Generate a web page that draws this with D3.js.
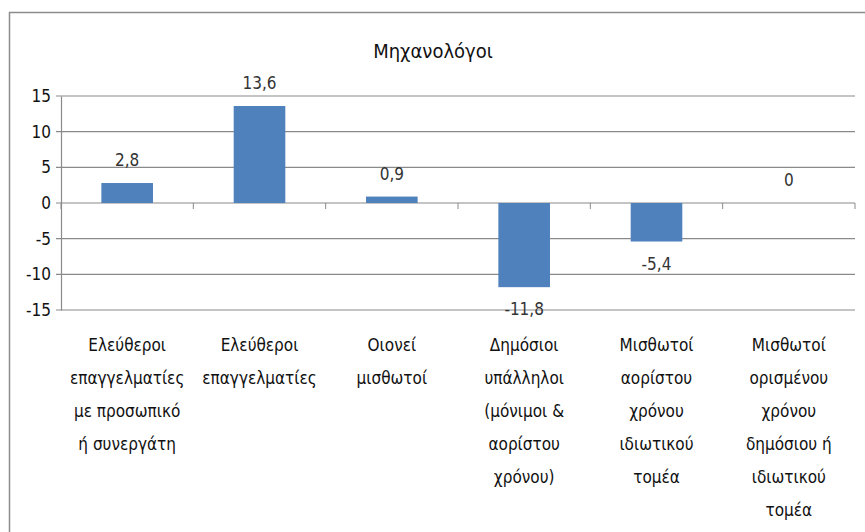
<!DOCTYPE html>
<html>
<head>
<meta charset="utf-8">
<script src="https://d3js.org/d3.v7.min.js"></script>
<style>
  body { margin: 0; background: #fff; }
  svg text { font-family: "Liberation Sans Narrow", "DejaVu Sans Condensed", sans-serif; }
</style>
</head>
<body>
<div id="chart"></div>
<script>
// data
var categories = [
  ["Ελεύθεροι", "επαγγελματίες", "με προσωπικό", "ή συνεργάτη"],
  ["Ελεύθεροι", "επαγγελματίες"],
  ["Οιονεί", "μισθωτοί"],
  ["Δημόσιοι", "υπάλληλοι", "(μόνιμοι &", "αορίστου", "χρόνου)"],
  ["Μισθωτοί", "αορίστου", "χρόνου", "ιδιωτικού", "τομέα"],
  ["Μισθωτοί", "ορισμένου", "χρόνου", "δημόσιου ή", "ιδιωτικού", "τομέα"]
];
var values = [2.8, 13.6, 0.9, -11.8, -5.4, 0];
var yTicks = [-15, -10, -5, 0, 5, 10, 15];
var title = "Μηχανολόγοι";

var svgWidth = 865, svgHeight = 532;
var margin = { top: 96, left: 61, right: 10, bottom: 222 };
var chartWidth = svgWidth - margin.left - margin.right;
var chartHeight = svgHeight - margin.top - margin.bottom;

var svg = d3.select("#chart").append("svg")
  .attr("width", svgWidth)
  .attr("height", svgHeight);

// chart frame
svg.append("rect")
  .attr("x", 9.5).attr("y", 12.5)
  .attr("width", 900).attr("height", 600)
  .attr("fill", "none")
  .attr("stroke", "#8c8c8c")
  .attr("stroke-width", 1.5);

svg.append("text")
  .attr("x", 433).attr("y", 58)
  .attr("text-anchor", "middle")
  .attr("font-size", "20px")
  .attr("fill", "#111")
  .text(title);

var chartGroup = svg.append("g")
  .attr("transform", `translate(${margin.left}, ${margin.top})`);

var xScale = d3.scaleBand()
  .domain(d3.range(values.length))
  .range([0, chartWidth])
  .paddingInner(0.61)
  .paddingOuter(0.305);

var yScale = d3.scaleLinear()
  .domain([-15, 15])
  .range([chartHeight, 0]);

// gridlines
chartGroup.selectAll(".grid")
  .data(yTicks)
  .enter()
  .append("line")
  .attr("x1", -5).attr("x2", chartWidth)
  .attr("y1", d => yScale(d)).attr("y2", d => yScale(d))
  .attr("stroke", "#8a8a8a")
  .attr("stroke-width", 1.2);

// y axis (plain hyphen for negatives, like the original)
var yAxis = d3.axisLeft(yScale).tickValues(yTicks).tickSize(0).tickPadding(10)
  .tickFormat(d => String(d));
var yG = chartGroup.append("g").call(yAxis);
yG.select(".domain").attr("stroke", "#8a8a8a").attr("stroke-width", 1.2);
yG.selectAll("text").attr("font-size", "17px").attr("fill", "#111")
  .style("font-family", "'Liberation Sans Narrow', 'DejaVu Sans Condensed', sans-serif");

// category ticks on zero line
var step = xScale.step();
chartGroup.selectAll(".xtick")
  .data(d3.range(values.length + 1))
  .enter()
  .append("line")
  .attr("x1", d => d * step).attr("x2", d => d * step)
  .attr("y1", yScale(0)).attr("y2", yScale(0) + 6)
  .attr("stroke", "#8a8a8a");

// bars
chartGroup.selectAll(".bar")
  .data(values)
  .enter()
  .append("rect")
  .attr("x", (d, i) => xScale(i))
  .attr("width", xScale.bandwidth())
  .attr("y", d => yScale(Math.max(0, d)))
  .attr("height", d => Math.abs(yScale(d) - yScale(0)))
  .attr("fill", "#4f81bd");

// value labels
chartGroup.selectAll(".vlabel")
  .data(values)
  .enter()
  .append("text")
  .attr("x", (d, i) => xScale(i) + xScale.bandwidth() / 2)
  .attr("y", d => d >= 0 ? yScale(d) - 17 : yScale(d) + 28)
  .attr("text-anchor", "middle")
  .attr("font-size", "17px")
  .attr("fill", "#333")
  .text(d => String(d).replace(".", ","));

// category labels
var catG = chartGroup.selectAll(".cat")
  .data(categories)
  .enter()
  .append("text")
  .attr("text-anchor", "middle")
  .attr("font-size", "17px")
  .attr("fill", "#111")
  .attr("transform", (d, i) => `translate(${xScale(i) + xScale.bandwidth() / 2}, ${chartHeight + 41})`);

catG.selectAll("tspan")
  .data(d => d)
  .enter()
  .append("tspan")
  .attr("x", 0)
  .attr("y", (d, j) => j * 33)
  .text(d => d);
</script>
</body>
</html>
